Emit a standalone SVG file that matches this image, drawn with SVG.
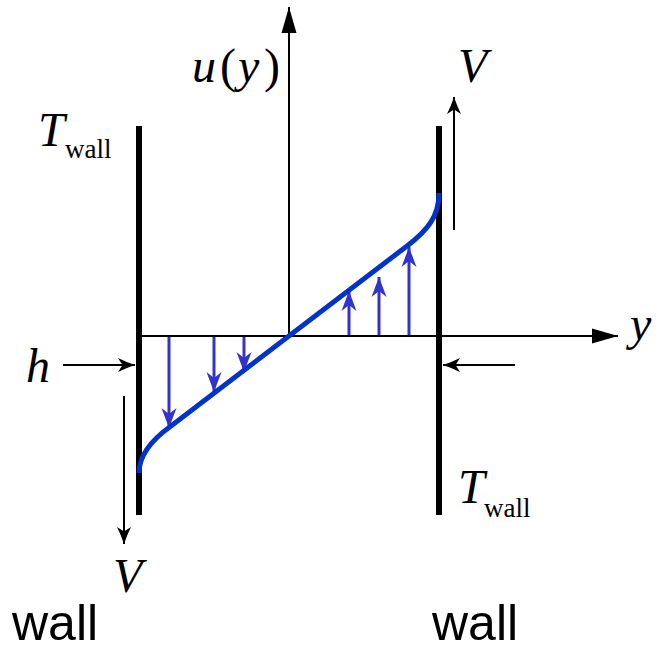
<svg xmlns="http://www.w3.org/2000/svg" width="656" height="651" viewBox="0 0 656 651">
<style>
.m{font-family:"Liberation Serif","Times New Roman",serif;font-size:48px;fill:#000}
.i{font-style:italic}
.sub{font-family:"Liberation Serif","Times New Roman",serif;font-size:27px;fill:#000}
.s{font-family:"Liberation Sans",Arial,sans-serif;font-size:50px;fill:#000}
.wall{stroke:#000;stroke-width:6;fill:none}
.ax{stroke:#000;stroke-width:2;fill:none}
.bl{stroke:#3333cc;stroke-width:3;fill:none}
</style>
<defs>
<marker id="tri" markerUnits="userSpaceOnUse" markerWidth="30" markerHeight="20" viewBox="-27 -10 30 20" refX="0" refY="0" orient="auto">
<path d="M0,0 L-26,-7.5 L-26,7.5 Z" fill="#000"/>
</marker>
<marker id="barb" markerUnits="userSpaceOnUse" markerWidth="24" markerHeight="20" viewBox="-20 -10 24 20" refX="0" refY="0" orient="auto">
<path d="M0,0 Q-9,-3 -17,-7 L-12.5,0 L-17,7 Q-9,3 0,0 Z" fill="#000"/>
</marker>
<marker id="bbarb" markerUnits="userSpaceOnUse" markerWidth="26" markerHeight="20" viewBox="-22 -10 26 20" refX="0" refY="0" orient="auto">
<path d="M0,0 L-20,-7.5 L-14,0 L-20,7.5 Z" fill="#3333cc"/>
</marker>
</defs>
<g id="walls">
<line id="wall-left" class="wall" x1="139" y1="126" x2="139" y2="515"/>
<line id="wall-right" class="wall" x1="439" y1="126" x2="439" y2="515"/>
</g>
<g id="connectors">
<line class="ax" x1="289" y1="336" x2="289" y2="7" marker-end="url(#tri)"/>
<line class="ax" x1="139" y1="336" x2="618" y2="336" marker-end="url(#tri)"/>
<line class="ax" x1="63" y1="365" x2="135" y2="365" marker-end="url(#barb)"/>
<line class="ax" x1="515" y1="365" x2="443" y2="365" marker-end="url(#barb)"/>
<line class="ax" x1="124" y1="396" x2="124" y2="544" marker-end="url(#barb)"/>
<line class="ax" x1="454" y1="230" x2="454" y2="97" marker-end="url(#barb)"/>
<line class="bl" x1="169" y1="337" x2="169" y2="428" marker-end="url(#bbarb)"/>
<line class="bl" x1="214" y1="337" x2="214" y2="392" marker-end="url(#bbarb)"/>
<line class="bl" x1="244" y1="337" x2="244" y2="372" marker-end="url(#bbarb)"/>
<line class="bl" x1="349" y1="335" x2="349" y2="291" marker-end="url(#bbarb)"/>
<line class="bl" x1="379" y1="335" x2="379" y2="277" marker-end="url(#bbarb)"/>
<line class="bl" x1="409" y1="335" x2="409" y2="247" marker-end="url(#bbarb)"/>
</g>
<g id="profile">
<path d="M139,473 C139,456 150,441 171,426 L407,246 C428,230 439,216 439,193" fill="none" stroke="#0033cc" stroke-width="5"/>
</g>
<g id="labels">
<text class="m" y="82"><tspan class="i" x="192">u</tspan><tspan x="220">(</tspan><tspan class="i" x="238">y</tspan><tspan x="264">)</tspan></text>
<text class="m i" x="630" y="340">y</text>
<text class="m i" x="26" y="382">h</text>
<text class="m i" x="458" y="82">V</text>
<text class="m i" x="113" y="592">V</text>
<text class="m i" x="38" y="146">T</text>
<text class="sub" x="65" y="158">wall</text>
<text class="m i" x="458" y="503">T</text>
<text class="sub" x="484" y="517">wall</text>
<text class="s" x="12" y="640">wall</text>
<text class="s" x="432" y="640">wall</text>
</g>
</svg>
